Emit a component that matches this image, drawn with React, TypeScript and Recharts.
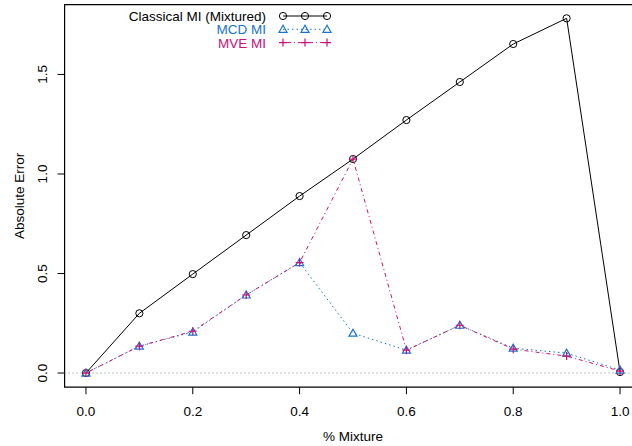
import { LineChart, Line, XAxis, YAxis, ReferenceLine, ReferenceArea } from 'recharts';

const mixture = [0, 0.1, 0.2, 0.3, 0.4, 0.5, 0.6, 0.7, 0.8, 0.9, 1.0];
const classical = [0, 0.3, 0.497, 0.693, 0.889, 1.075, 1.271, 1.462, 1.653, 1.782, 0.005];
const mcd = [0, 0.135, 0.206, 0.392, 0.555, 0.2, 0.115, 0.24, 0.125, 0.1, 0.015];
const mve = [0, 0.135, 0.21, 0.392, 0.555, 1.075, 0.115, 0.24, 0.12, 0.085, 0.01];
const xTicks = [0, 0.2, 0.4, 0.6, 0.8, 1.0];
const yTicks = [0, 0.5, 1.0, 1.5];

const FONT = '"Liberation Sans", Arial, sans-serif';
const FS = 13.5;
const BLUE = '#1874CD';
const PINK = '#CD1076';

const X_DOMAIN: [number, number] = [-0.04, 1.04];
const Y_DOMAIN: [number, number] = [-0.0712, 1.851];

const data = mixture.map((m, i) => ({ m, classical: classical[i], mcd: mcd[i], mve: mve[i] }));

function CircleDot(props: any) {
  const { cx, cy } = props;
  if (cx == null || cy == null) return null;
  return <circle cx={cx} cy={cy} r={3.6} fill="none" stroke="#000" strokeWidth={1} />;
}

function TriangleDot(props: any) {
  const { cx, cy } = props;
  if (cx == null || cy == null) return null;
  const s = 4;
  return (
    <polygon
      points={`${cx},${cy - s} ${cx - s},${cy + s * 0.75} ${cx + s},${cy + s * 0.75}`}
      fill="none"
      stroke={BLUE}
      strokeWidth={1.2}
    />
  );
}

function PlusDot(props: any) {
  const { cx, cy } = props;
  if (cx == null || cy == null) return null;
  const s = 4;
  return <path d={`M${cx - s},${cy}H${cx + s}M${cx},${cy - s}V${cy + s}`} stroke={PINK} strokeWidth={1.2} />;
}

function XTick({ x, y, payload }: any) {
  return (
    <text x={x} y={y + 21.5} textAnchor="middle" fontSize={FS} fontFamily={FONT} fill="#000">
      {Number(payload.value).toFixed(1)}
    </text>
  );
}

function YTick({ x, y, payload }: any) {
  const tx = x - 10.5;
  return (
    <text x={tx} y={y} transform={`rotate(-90, ${tx}, ${y})`} textAnchor="middle" fontSize={FS} fontFamily={FONT} fill="#000">
      {Number(payload.value).toFixed(1)}
    </text>
  );
}

function LegendOverlay() {
  const rows = [
    { label: 'Classical MI (Mixtured)', color: '#000', dash: undefined, dot: CircleDot, y: 21 },
    { label: 'MCD MI', color: BLUE, dash: '1.5 3', dot: TriangleDot, y: 34.3 },
    { label: 'MVE MI', color: PINK, dash: '1 3 4 3', dot: PlusDot, y: 47.6 },
  ];
  const xs = [283, 305, 327];
  return (
    <svg width={632} height={60} style={{ position: 'absolute', left: 0, top: 0, pointerEvents: 'none' }}>
      {rows.map((r) => {
        const Dot = r.dot;
        const cy = r.y - 5;
        return (
          <g key={r.label}>
            <text x={266} y={r.y} textAnchor="end" fontSize={FS} fontFamily={FONT} fill={r.color}>
              {r.label}
            </text>
            <line x1={xs[0]} x2={xs[2]} y1={cy} y2={cy} stroke={r.color} strokeWidth={1} strokeDasharray={r.dash} />
            {xs.map((x) => (
              <Dot key={x} cx={x} cy={cy} />
            ))}
          </g>
        );
      })}
    </svg>
  );
}

export default function App() {
  return (
    <div style={{ position: 'absolute', left: 0, top: 0, width: 632, height: 446, overflow: 'hidden', background: '#fff' }}>
      <LineChart width={642} height={446} data={data} margin={{ top: 4.6, right: 0.6, left: 0, bottom: 0 }}>
        <XAxis
          dataKey="m"
          type="number"
          domain={X_DOMAIN}
          ticks={xTicks}
          allowDataOverflow
          height={58.8}
          axisLine={false}
          tickLine={{ stroke: '#000' }}
          tickSize={7}
          tickMargin={0}
          tick={<XTick />}
          label={{ value: '% Mixture', position: 'insideBottom', offset: 5, fontSize: FS, fontFamily: FONT, fill: '#000' }}
        />
        <YAxis
          type="number"
          domain={Y_DOMAIN}
          ticks={yTicks}
          allowDataOverflow
          width={64.6}
          axisLine={false}
          tickLine={{ stroke: '#000' }}
          tickSize={7}
          tickMargin={0}
          tick={<YTick />}
          label={{
            value: 'Absolute Error',
            content: ({ viewBox }: any) => {
              const cy = viewBox.y + viewBox.height / 2;
              return (
                <text x={24} y={cy} transform={`rotate(-90, 24, ${cy})`} textAnchor="middle" fontSize={FS} fontFamily={FONT} fill="#000">
                  Absolute Error
                </text>
              );
            },
          }}
        />
        <ReferenceArea x1={X_DOMAIN[0]} x2={X_DOMAIN[1]} y1={Y_DOMAIN[0]} y2={Y_DOMAIN[1]} fill="none" stroke="#000" strokeWidth={1.2} ifOverflow="visible" />
        <ReferenceLine y={0} stroke="#808080" strokeDasharray="1 3" />
        <Line dataKey="classical" stroke="#000" strokeWidth={1} dot={<CircleDot />} isAnimationActive={false} />
        <Line dataKey="mcd" stroke={BLUE} strokeWidth={1} strokeDasharray="1.5 3" dot={<TriangleDot />} isAnimationActive={false} />
        <Line dataKey="mve" stroke={PINK} strokeWidth={1} strokeDasharray="1 3 4 3" dot={<PlusDot />} isAnimationActive={false} />
      </LineChart>
      <LegendOverlay />
    </div>
  );
}
